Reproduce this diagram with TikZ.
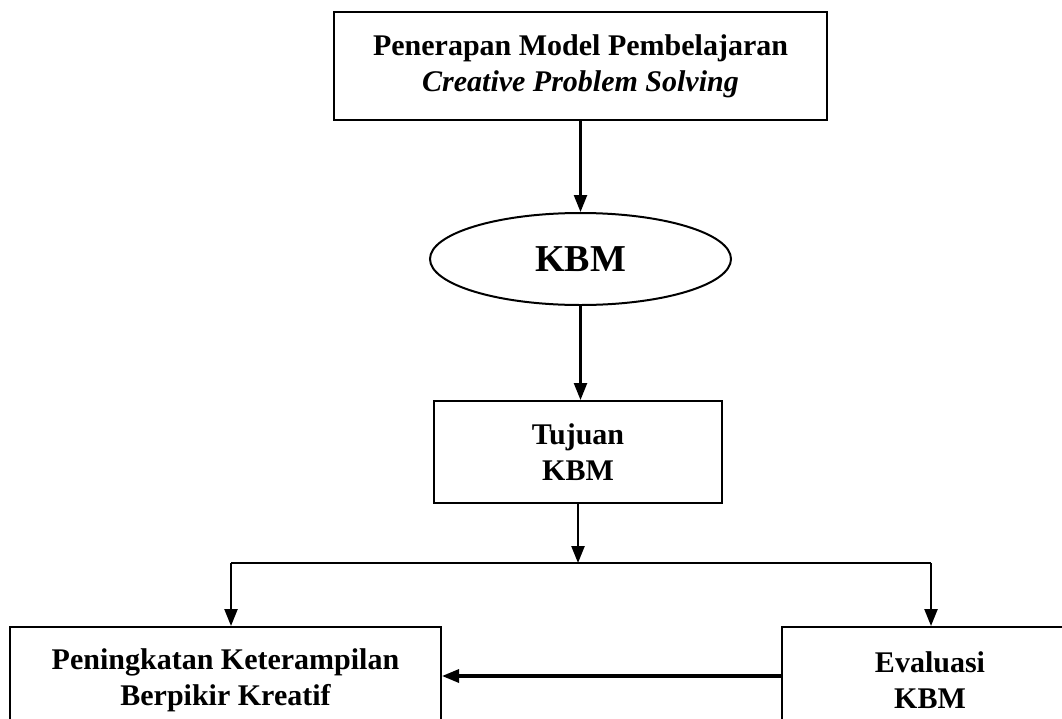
\documentclass[tikz,border=0pt]{standalone}
\usepackage{fontspec}
\setmainfont{Liberation Serif}
\usetikzlibrary{arrows.meta, shapes.geometric}

\begin{document}
\begin{tikzpicture}[x=1pt, y=-1pt, >={Triangle[length=17pt, width=13pt]},
    kotak/.style={draw, line width=2pt, align=center, inner sep=0pt,
      font=\fontsize{30}{36}\selectfont\bfseries},
    panah/.style={->, line width=2.4pt}]
  % bingkai gambar
  \useasboundingbox (0,0) rectangle (1062,718);
  \clip (0,0) rectangle (1062,718);
  \fill[white] (0,0) rectangle (1062,718);
  % kotak-kotak
  \node[kotak, minimum width=493pt, minimum height=108pt] (model) at (580.5,66)
    {Penerapan Model Pembelajaran\\ \itshape Creative Problem Solving};
  \node[kotak, ellipse, minimum width=301pt, minimum height=92pt,
    font=\fontsize{38}{44}\selectfont\bfseries] (kbm) at (580.5,259) {KBM};
  \node[kotak, minimum width=288pt, minimum height=102pt] (tujuan) at (578,452)
    {Tujuan\\ KBM};
  \node[kotak, minimum width=431pt, minimum height=106pt] (hasil) at (225.5,680)
    {Peningkatan Keterampilan\\ Berpikir Kreatif};
  \node[kotak, minimum width=296pt, minimum height=106pt] (evaluasi) at (930,680)
    {Evaluasi\\ KBM};
  % titik cabang
  \coordinate (cabang) at (578,563);
  \coordinate (kiri) at (231,563);
  \coordinate (kanan) at (931,563);
  % panah
  \draw[panah] (model) -- (kbm);
  \draw[panah] (kbm.south) -- (kbm.south |- tujuan.north);
  \draw[panah] (tujuan) -- (cabang);
  \draw[line width=2.4pt] (kiri) -- (kanan);
  \draw[panah] (kiri) -- (kiri |- hasil.north);
  \draw[panah] (kanan) -- (kanan |- evaluasi.north);
  \draw[panah, line width=3.2pt] (evaluasi.west |- 0,676) -- (hasil.east |- 0,676);
\end{tikzpicture}
\end{document}
